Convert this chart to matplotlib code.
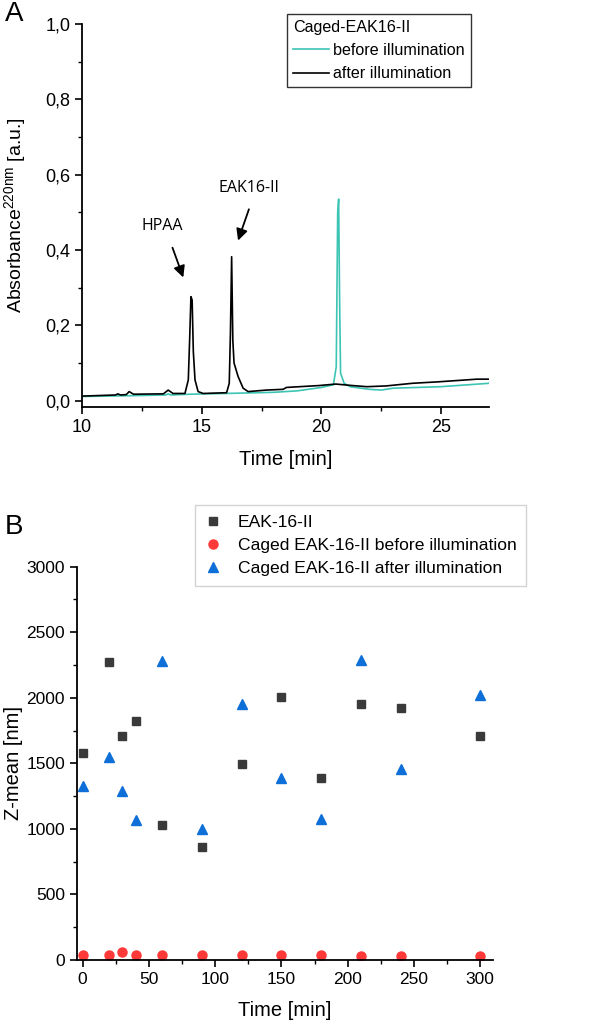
import matplotlib
matplotlib.use('Agg')
import matplotlib.pyplot as plt
from matplotlib.ticker import MultipleLocator, FuncFormatter

plt.rcParams['font.family'] = ['Liberation Sans', 'DejaVu Sans']
plt.rcParams['mathtext.fontset'] = 'custom'
plt.rcParams['mathtext.rm'] = 'Liberation Sans'
plt.rcParams['mathtext.it'] = 'Liberation Sans'

# panel A: HPLC traces
t_after = [10.0, 11.4, 11.5, 11.6, 11.85, 11.97, 12.15, 13.4, 13.6, 13.8, 14.3, 14.44, 14.5, 14.55,
           14.6, 14.65, 14.72, 14.85, 15.06, 16.04, 16.15, 16.2, 16.25, 16.3, 16.35, 16.52, 16.73,
           16.94, 17.7, 18.4, 18.54, 19.9, 20.6, 21.3, 21.9, 22.7, 23.8, 24.9, 26.5, 27.0]
a_after = [0.012, 0.015, 0.018, 0.015, 0.016, 0.024, 0.017, 0.018, 0.028, 0.019, 0.019, 0.055, 0.17, 0.276,
           0.267, 0.13, 0.055, 0.024, 0.019, 0.021, 0.046, 0.18, 0.382, 0.16, 0.10, 0.064, 0.033,
           0.024, 0.028, 0.030, 0.035, 0.040, 0.044, 0.040, 0.037, 0.039, 0.046, 0.050, 0.057, 0.057]
t_before = [10.0, 12.0, 13.5, 13.6, 13.7, 14.5, 16.0, 18.0, 19.0, 20.0, 20.5, 20.62, 20.68, 20.72,
            20.76, 20.8, 20.95, 21.2, 22.0, 22.5, 23.0, 25.0, 27.0]
a_before = [0.011, 0.013, 0.015, 0.018, 0.015, 0.017, 0.019, 0.022, 0.026, 0.035, 0.042, 0.09, 0.50, 0.535,
            0.27, 0.073, 0.046, 0.037, 0.030, 0.028, 0.033, 0.037, 0.046]

# panel B: Z-mean vs time
time_b = [0, 20, 30, 40, 60, 90, 120, 150, 180, 210, 240, 300]
eak = [1575, 2275, 1710, 1820, 1030, 860, 1495, 2005, 1385, 1955, 1925, 1710]
caged_before = [40, 38, 64, 36, 36, 36, 35, 35, 35, 34, 34, 33]
caged_after = [1330, 1546, 1286, 1064, 2282, 998, 1956, 1390, 1077, 2287, 1457, 2022]

fig = plt.figure(figsize=(6.12, 10.25), dpi=100)

comma = FuncFormatter(lambda v, p: ('%.1f' % v).replace('.', ','))

axA = fig.add_axes([0.134, 0.6029, 0.665, 0.3737])
axA.plot(t_before, a_before, color='#3cc4b4', lw=1.2, label='before illumination')
axA.plot(t_after, a_after, color='black', lw=1.2, label='after illumination')
axA.set_xlim(10, 27)
axA.set_ylim(-0.017, 1.0)
axA.xaxis.set_major_locator(MultipleLocator(5))
axA.xaxis.set_minor_locator(MultipleLocator(2.5))
axA.yaxis.set_major_locator(MultipleLocator(0.2))
axA.yaxis.set_minor_locator(MultipleLocator(0.1))
axA.yaxis.set_major_formatter(comma)
axA.set_xlabel('Time [min]', fontsize=14.5, labelpad=10)
axA.set_ylabel('Absorbance$^{\\mathrm{220nm}}$ [a.u.]', fontsize=14)
axA.yaxis.set_label_coords(-0.133, 0.5)
leg = axA.legend(title='Caged-EAK16-II', loc='upper right', bbox_to_anchor=(0.955, 1.025),
                 fontsize=11.6, title_fontsize=11.6, frameon=True, fancybox=False,
                 edgecolor='black', handlelength=2.2, handletextpad=0.3, labelspacing=0.5,
                 borderpad=0.35, borderaxespad=0)
leg._legend_box.align = 'left'
leg.get_frame().set_linewidth(1.0)
axA.annotate('', xy=(14.27, 0.32), xytext=(13.74, 0.413),
             arrowprops=dict(arrowstyle='-|>', color='black', lw=1.3, mutation_scale=17))
axA.text(13.35, 0.464, 'HPAA', fontsize=11.5, family=['Open Sans'], ha='center', va='center')
axA.annotate('', xy=(16.48, 0.418), xytext=(17.01, 0.515),
             arrowprops=dict(arrowstyle='-|>', color='black', lw=1.3, mutation_scale=17))
axA.text(16.98, 0.564, 'EAK16-II', fontsize=11.5, family=['Open Sans'], ha='center', va='center')

axB = fig.add_axes([0.1253, 0.0634, 0.680, 0.3838])
axB.plot(time_b, eak, 's', color='#3a3a3a', ms=6, label='EAK-16-II', ls='none')
axB.plot(time_b, caged_before, 'o', color='#ff3838', ms=6.5, label='Caged EAK-16-II before illumination', ls='none')
axB.plot(time_b, caged_after, '^', color='#0f6fd8', ms=7.5, label='Caged EAK-16-II after illumination', ls='none')
axB.set_xlim(-4.5, 309.6)
axB.set_ylim(0, 3000)
axB.xaxis.set_major_locator(MultipleLocator(50))
axB.xaxis.set_minor_locator(MultipleLocator(25))
axB.yaxis.set_major_locator(MultipleLocator(500))
axB.yaxis.set_minor_locator(MultipleLocator(250))
axB.set_xlabel('Time [min]', fontsize=14.5, labelpad=10)
axB.set_ylabel('Z-mean [nm]', fontsize=14.5)
axB.yaxis.set_label_coords(-0.13, 0.5)
legB = axB.legend(loc='upper left', bbox_to_anchor=(195 / 612, 1 - 505 / 1025),
                  bbox_transform=fig.transFigure,
                  fontsize=12.6, frameon=True, fancybox=False, edgecolor='#c8c8c8',
                  handlelength=1.0, handletextpad=0.9, labelspacing=0.45, borderpad=0.55,
                  borderaxespad=0, markerscale=1.0)
legB.get_frame().set_linewidth(1.0)

for ax, ls in ((axA, 13), (axB, 12.5)):
    for s in ('top', 'right'):
        ax.spines[s].set_visible(False)
    for s in ('left', 'bottom'):
        ax.spines[s].set_linewidth(1.3)
    ax.tick_params(which='major', direction='out', length=5, width=1.2, labelsize=ls)
    ax.tick_params(which='minor', direction='out', length=3, width=1.0)

fig.text(0.008, 0.999, 'A', fontsize=20, family=['Liberation Sans'], va='top')
fig.text(0.008, 0.4985, 'B', fontsize=20, family=['Liberation Sans'], va='top')

fig.savefig('out.png', dpi=100)
